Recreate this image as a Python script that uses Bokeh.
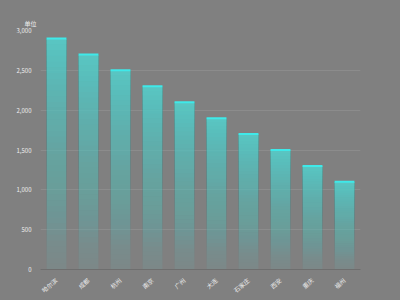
from bokeh.plotting import figure
from bokeh.models import FixedTicker, NumeralTickFormatter, FactorRange
from bokeh.embed import file_html
from bokeh.resources import INLINE

categories = ["哈尔滨", "成都", "杭州", "南京", "广州", "大连", "石家庄", "西安", "重庆", "福州"]
values = [2900, 2700, 2500, 2300, 2100, 1900, 1700, 1500, 1300, 1100]
y_ticks = [0, 500, 1000, 1500, 2000, 2500, 3000]

BG = "#808080"
BAR = (90, 208, 204)
CAP = "#3fe9e9"
FONT = "Noto Sans CJK SC"

p = figure(width=400, height=300, x_range=FactorRange(*categories, range_padding=0),
           y_range=(0, 3000), output_backend="svg", toolbar_location=None,
           min_border_left=40, min_border_right=40, min_border_top=30, min_border_bottom=30)
p.styles = {"background-color": BG}
p.title.text = "单位"
p.title.text_font_size = "6px"
p.title.text_font_style = "normal"
p.title.text_color = "#eeeeee"
p.title.text_font = FONT
p.title.offset = -16
p.title.standoff = 5
p.background_fill_color = BG
p.border_fill_color = BG
p.outline_line_color = None

# gradient bars: overlapping layers whose composite alpha rises linearly upward
N = 40
a_bot, a_top = 0.08, 0.92
targets = [a_bot + (a_top - a_bot) * (i + 1) / N for i in range(N)]
layer_alpha = []
prev = 0.0
for A in targets:
    layer_alpha.append(1 - (1 - A) / (1 - prev))
    prev = A
xs, bots, tops, alphas = [], [], [], []
for c, v in zip(categories, values):
    for i in range(N):
        xs.append(c)
        bots.append(v * i / N)
        tops.append(v)
        alphas.append(layer_alpha[i])
p.vbar(x=xs, bottom=bots, top=tops, width=0.62, fill_color=BAR, fill_alpha=alphas,
       line_color=None)
p.rect(x=categories, y=values, width=0.62, height=2, height_units="screen",
       fill_color=CAP, line_color=None)

p.xgrid.grid_line_color = None
p.ygrid.grid_line_color = "#8c8c8c"
p.ygrid.grid_line_width = 1
p.ygrid.ticker = FixedTicker(ticks=y_ticks)

p.yaxis.ticker = FixedTicker(ticks=y_ticks)
p.yaxis.formatter = NumeralTickFormatter(format="0,0")
p.yaxis.axis_line_color = None
p.yaxis.major_tick_line_color = None
p.yaxis.minor_tick_line_color = None
p.yaxis.major_label_text_font_size = "6px"
p.yaxis.major_label_text_color = "#eeeeee"
p.yaxis.major_label_text_font = FONT
p.yaxis.major_label_standoff = 3

p.xaxis.axis_line_color = "#6e6e6e"
p.xaxis.major_tick_line_color = None
p.xaxis.minor_tick_line_color = None
p.xaxis.major_label_text_font_size = "6px"
p.xaxis.major_label_text_color = "#eeeeee"
p.xaxis.major_label_text_font = FONT
p.xaxis.major_label_orientation = 0.7
p.xaxis.major_label_standoff = 4

open("out.html", "w").write(file_html(p, INLINE))
